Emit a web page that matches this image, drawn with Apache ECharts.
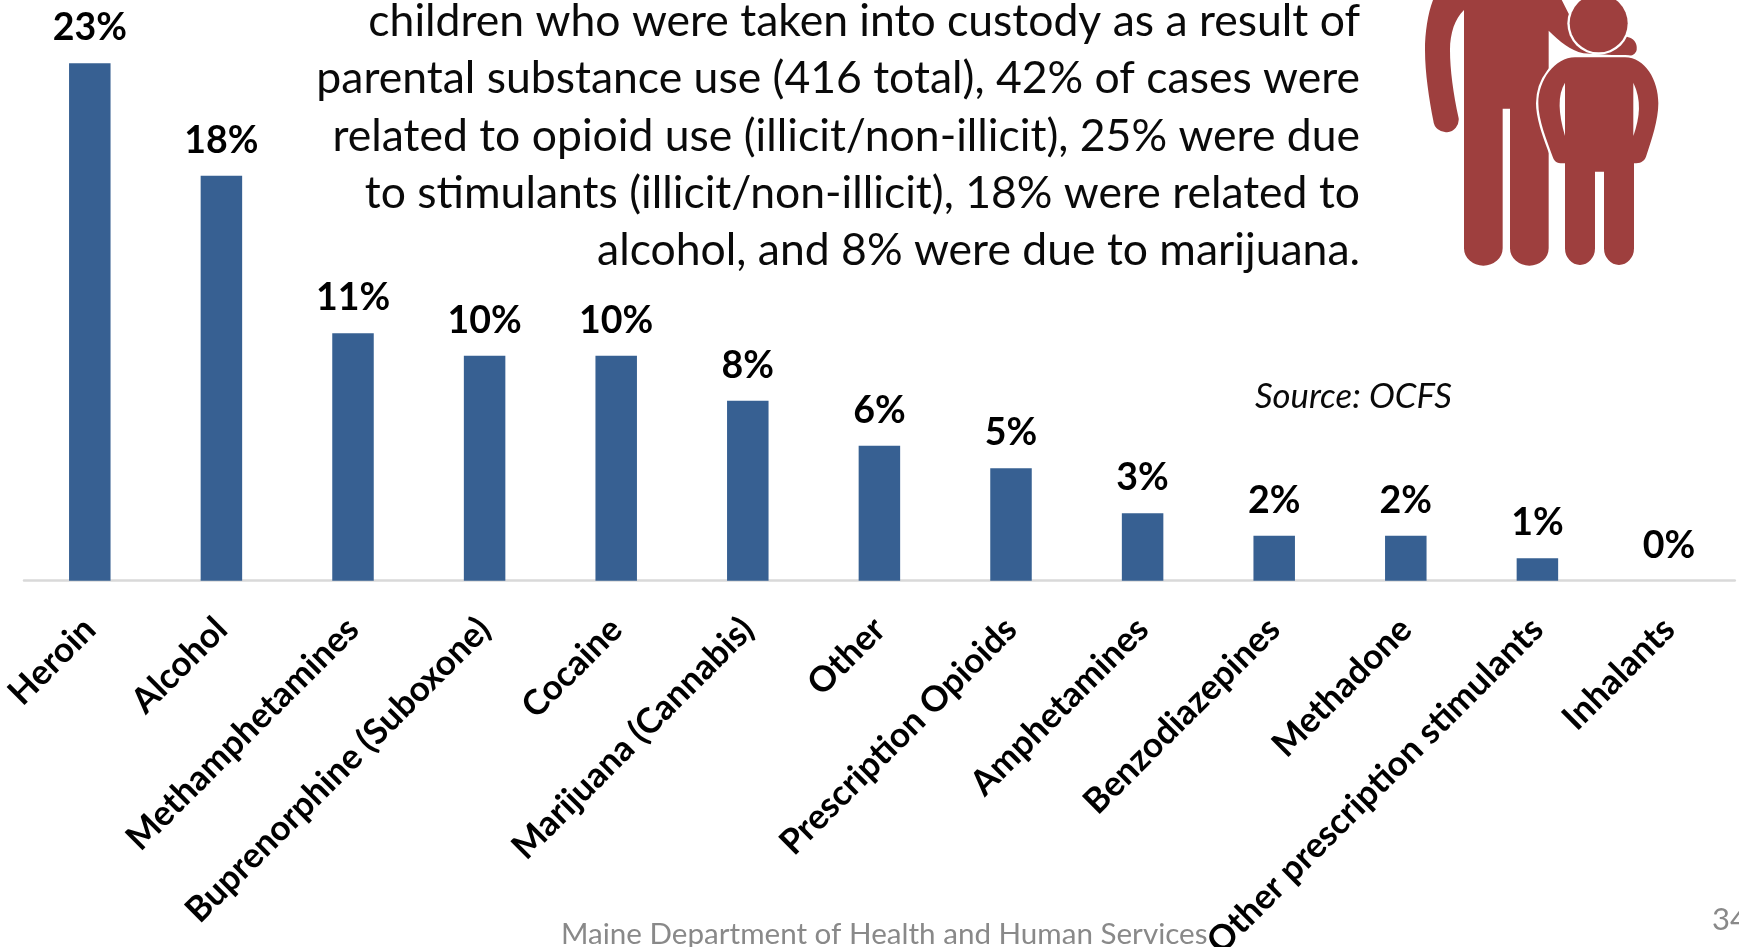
<!DOCTYPE html>
<html><head><meta charset="utf-8">
<style>html,body{margin:0;padding:0;background:#fff;overflow:hidden}#c{width:1739px;height:947px}</style>
<script src="https://cdn.jsdelivr.net/npm/echarts@6/dist/echarts.min.js"></script>
</head><body><div id="c"></div>
<script>
const categories = ["Heroin","Alcohol","Methamphetamines","Buprenorphine (Suboxone)","Cocaine","Marijuana (Cannabis)","Other","Prescription Opioids","Amphetamines","Benzodiazepines","Methadone","Other prescription stimulants","Inhalants"];
const percentages = [23,18,11,10,10,8,6,5,3,2,2,1,0];
const noteLines = ["children who were taken into custody as a result of","parental substance use (416 total), 42% of cases were","related to opioid use (illicit/non-illicit), 25% were due","to stimulants (illicit/non-illicit), 18% were related to","alcohol, and 8% were due to marijuana."];
const sourceText = "Source: OCFS";
const footerText = "Maine Department of Health and Human Services";
const pageNumber = "34";
const F = "Lato, 'Open Sans', sans-serif";
const RED = "#9E3F3E";

const manPath = "M180,-40 C150,0 135,80 135,150 C135,220 148,300 160,362 A38,38 0 0 0 236,355 C220,280 210,210 210,150 C210,100 225,55 252,30 L252,745 A58,52 0 0 0 368,745 L368,326 L390,326 L390,745 A58,52 0 0 0 506,745 L506,92 C540,125 570,150 610,160 L745,168 C760,170 772,155 770,145 C772,130 760,115 745,112 L568,45 L525,-40 Z";
const childPath = "M585,172 L735,172 C795,172 835,240 835,310 C835,360 815,420 798,470 C792,485 780,490 762,490 L762,745 A45,50 0 0 1 672,745 L672,515 L645,515 L645,745 A45,50 0 0 1 555,745 L555,490 C535,490 525,490 518,470 C500,420 475,360 475,310 C475,240 525,172 585,172 Z";
const slitL = "M555,248 C532,285 535,340 555,408 Z";
const slitR = "M760,248 C785,300 780,350 760,408 Z";

function iconItem() {
  const place = {x:1380, y:0, scaleX:1/3, scaleY:1/3};
  const p = (d, style) => Object.assign({type:'path', shape:{pathData:d}, style}, place);
  const c = (r, fill) => Object.assign({type:'circle', shape:{cx:656, cy:70, r}, style:{fill}}, place);
  return {type:'group', silent:true, children:[
    p(manPath, {fill:RED}),
    p(childPath, {fill:'#fff', stroke:'#fff', lineWidth:14}),
    c(94,'#fff'), c(87,RED),
    p(childPath, {fill:RED}),
    p(slitL, {fill:'#fff'}), p(slitR, {fill:'#fff'})
  ]};
}

const texts = noteLines.map((t,i)=>({type:'text', silent:true,
  style:{text:t, x:1360, y:21.5+i*57.4, align:'right', verticalAlign:'middle', font:"44.5px "+F, fill:'#0a0a0a'}}));
texts.push({type:'text', silent:true, style:{text:sourceText, x:1255, y:397, align:'left', verticalAlign:'middle', font:"italic 34.7px "+F, fill:'#0a0a0a'}});
texts.push({type:'text', silent:true, style:{text:footerText, x:561, y:934, align:'left', verticalAlign:'middle', font:"29.6px "+F, fill:'#898989'}});
texts.push({type:'text', silent:true, style:{text:pageNumber, x:1712, y:920, align:'left', verticalAlign:'middle', font:"31px "+F, fill:'#898989'}});

const chart = echarts.init(document.getElementById('c'), null, {renderer:'canvas'});
chart.setOption({
  animation:false,
  backgroundColor:'#fff',
  grid:{left:24, top:18.2, width:1710.8, height:562.5, containLabel:false, outerBoundsMode:'none'},
  xAxis:{type:'category', data:categories,
    axisLine:{show:true, lineStyle:{color:'#d9d9d9', width:2.5}},
    axisTick:{show:false},
    axisLabel:{interval:0, rotate:45, margin:43, color:'#000', fontFamily:F, fontWeight:'bold', fontSize:35, hideOverlap:false}},
  yAxis:{type:'value', min:0, max:25, show:false, splitLine:{show:false}},
  graphic:{elements:texts},
  series:[
    {type:'bar', data:percentages, barWidth:41.5, itemStyle:{color:'#376092'},
     label:{show:true, position:'top', distance:16, formatter:p=>p.value+'%', color:'#000', fontFamily:F, fontWeight:'bold', fontSize:37.5}},
    {type:'custom', coordinateSystem:'none', silent:true, data:[0], renderItem:iconItem, clip:false}
  ]
});
</script></body></html>
